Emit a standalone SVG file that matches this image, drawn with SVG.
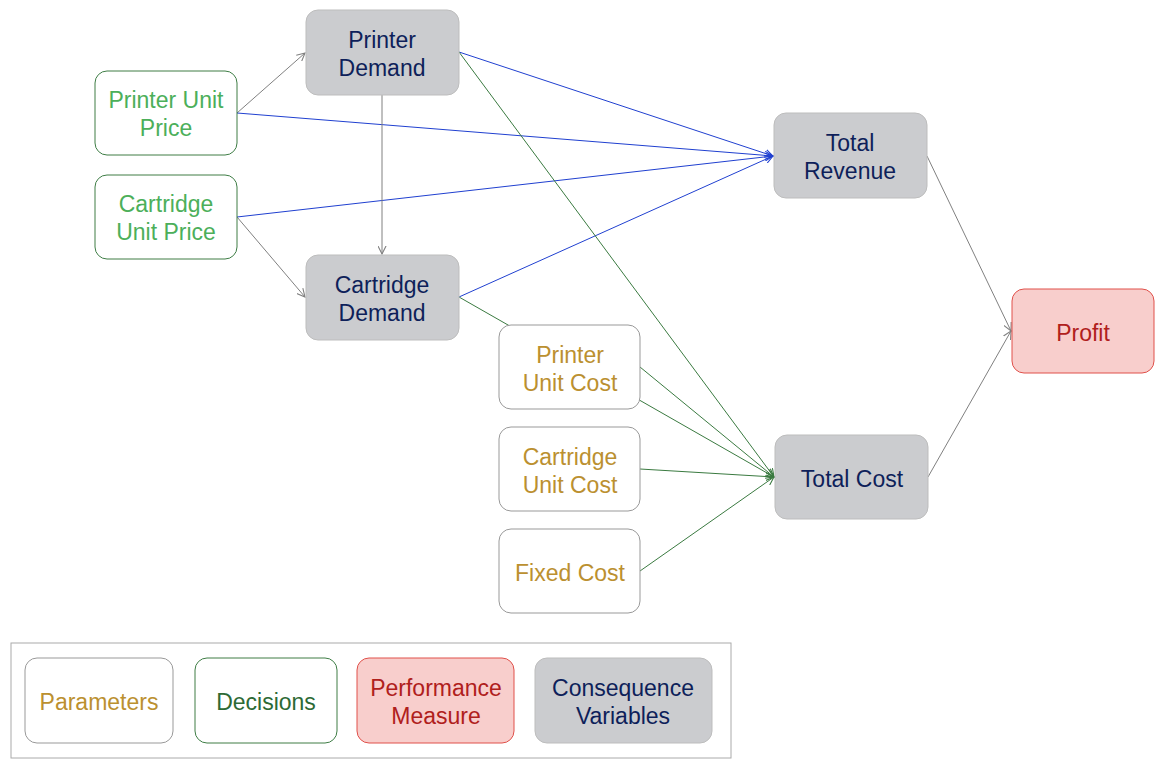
<svg xmlns="http://www.w3.org/2000/svg" width="1170" height="768" viewBox="0 0 1170 768">
<style>
text{font-family:"Liberation Sans",Arial,sans-serif;font-size:23px;text-anchor:middle}
.dec rect{fill:#fff;stroke:#3e7d45;stroke-width:1}
.dec text{fill:#4caf5a}
.par rect{fill:#fff;stroke:#999;stroke-width:1}
.par text{fill:#bb9030}
.con rect{fill:#cbcccf;stroke:#bdbdbd;stroke-width:1}
.con text{fill:#0e1f5a}
.perf rect{fill:#f8cecc;stroke:#e0504a;stroke-width:1}
.perf text{fill:#b0201c}
.legdec text{fill:#2d6a35}
.c{fill:none;stroke-width:1}
.g{stroke:#808080}
.b{stroke:#2040d0}
.gr{stroke:#3a7a40}
</style>
<defs>
<marker id="ag" viewBox="0 0 10 10" refX="9" refY="5" markerWidth="9" markerHeight="9" markerUnits="userSpaceOnUse" orient="auto"><path d="M0,0.5 L9,5 L0,9.5" fill="none" stroke="#808080" stroke-width="1.2"/></marker>
<marker id="ab" viewBox="0 0 10 10" refX="9" refY="5" markerWidth="9" markerHeight="9" markerUnits="userSpaceOnUse" orient="auto"><path d="M0,0.5 L9,5 L0,9.5" fill="none" stroke="#2040d0" stroke-width="1.2"/></marker>
<marker id="agr" viewBox="0 0 10 10" refX="9" refY="5" markerWidth="9" markerHeight="9" markerUnits="userSpaceOnUse" orient="auto"><path d="M0,0.5 L9,5 L0,9.5" fill="none" stroke="#3a7a40" stroke-width="1.2"/></marker>
</defs>
<rect width="1170" height="768" fill="#fff"/>
<g id="connectors">
<line class="c g" x1="237" y1="113" x2="305" y2="53" marker-end="url(#ag)"/>
<line class="c b" x1="237" y1="113" x2="773" y2="156" marker-end="url(#ab)"/>
<line class="c b" x1="237" y1="217" x2="773" y2="156" marker-end="url(#ab)"/>
<line class="c g" x1="237" y1="217" x2="305" y2="297" marker-end="url(#ag)"/>
<line class="c g" x1="382" y1="95" x2="382" y2="254" marker-end="url(#ag)"/>
<line class="c b" x1="459" y1="52" x2="773" y2="156" marker-end="url(#ab)"/>
<line class="c b" x1="459" y1="297" x2="773" y2="156" marker-end="url(#ab)"/>
<line class="c gr" x1="459" y1="52" x2="774" y2="477" marker-end="url(#agr)"/>
<line class="c gr" x1="459" y1="297" x2="774" y2="477" marker-end="url(#agr)"/>
<line class="c gr" x1="640" y1="367" x2="774" y2="477" marker-end="url(#agr)"/>
<line class="c gr" x1="640" y1="469" x2="774" y2="477" marker-end="url(#agr)"/>
<line class="c gr" x1="640" y1="571" x2="774" y2="477" marker-end="url(#agr)"/>
<line class="c g" x1="927" y1="156" x2="1011" y2="331" marker-end="url(#ag)"/>
<line class="c g" x1="928" y1="477" x2="1011" y2="331" marker-end="url(#ag)"/>
</g>
<g id="printer-unit-price" class="dec"><rect x="95" y="71" width="142" height="84" rx="12"/><text x="166" y="108">Printer Unit</text><text x="166" y="136">Price</text></g>
<g id="cartridge-unit-price" class="dec"><rect x="95" y="175" width="142" height="84" rx="12"/><text x="166" y="212">Cartridge</text><text x="166" y="240">Unit Price</text></g>
<g id="printer-demand" class="con"><rect x="306" y="10" width="153" height="85" rx="12"/><text x="382" y="48">Printer</text><text x="382" y="76">Demand</text></g>
<g id="cartridge-demand" class="con"><rect x="306" y="255" width="153" height="85" rx="12"/><text x="382" y="293">Cartridge</text><text x="382" y="321">Demand</text></g>
<g id="printer-unit-cost" class="par"><rect x="499" y="325" width="141" height="84" rx="12"/><text x="570" y="363">Printer</text><text x="570" y="391">Unit Cost</text></g>
<g id="cartridge-unit-cost" class="par"><rect x="499" y="427" width="141" height="84" rx="12"/><text x="570" y="465">Cartridge</text><text x="570" y="493">Unit Cost</text></g>
<g id="fixed-cost" class="par"><rect x="499" y="529" width="141" height="84" rx="12"/><text x="570" y="581">Fixed Cost</text></g>
<g id="total-revenue" class="con"><rect x="774" y="113" width="153" height="85" rx="12"/><text x="850" y="151">Total</text><text x="850" y="179">Revenue</text></g>
<g id="total-cost" class="con"><rect x="775" y="435" width="153" height="84" rx="12"/><text x="852" y="487">Total Cost</text></g>
<g id="profit" class="perf"><rect x="1012" y="289" width="142" height="84" rx="12"/><text x="1083" y="341">Profit</text></g>
<g id="legend">
<rect x="11" y="643" width="720" height="115" fill="#fff" stroke="#aaa" stroke-width="1"/>
<g id="legend-parameters" class="par"><rect x="25" y="658" width="148" height="85" rx="12"/><text x="99" y="710">Parameters</text></g>
<g id="legend-decisions" class="dec legdec"><rect x="195" y="658" width="142" height="85" rx="12"/><text x="266" y="710">Decisions</text></g>
<g id="legend-performance" class="perf"><rect x="357" y="658" width="157" height="85" rx="12"/><text x="436" y="696">Performance</text><text x="436" y="724">Measure</text></g>
<g id="legend-consequence" class="con"><rect x="535" y="658" width="177" height="85" rx="12"/><text x="623" y="696">Consequence</text><text x="623" y="724">Variables</text></g>
</g>
</svg>
